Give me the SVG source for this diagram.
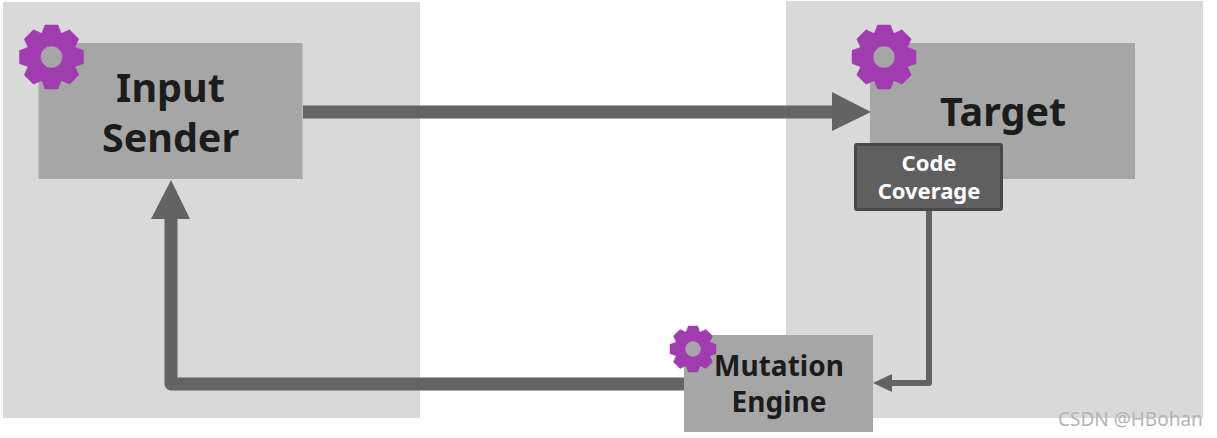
<svg xmlns="http://www.w3.org/2000/svg" width="1217" height="438" viewBox="0 0 1217 438">
  <style>
    .panel { fill: #d9d9d9; }
    .box { fill: #a6a6a6; }
    .gear { fill: #a03bb0; fill-rule: evenodd; stroke: #a03bb0; stroke-width: 0.5; stroke-linejoin: round; }
    .label { font-family: "Noto Sans", "Open Sans", sans-serif; font-weight: 700; text-anchor: middle; fill: #1c1c1c; }
    .big { font-size: 39.500px; }
    .mid { font-size: 28px; }
    .small { font-size: 22px; fill: #ffffff; }
    .wire { fill: none; stroke: #636363; stroke-linejoin: round; }
    .head { fill: #636363; }
    .mark { font-family: "Noto Sans", "DejaVu Sans", sans-serif; font-size: 19px; fill: #b4b4b4; }
  </style>
  <defs>
    <path id="gear" class="gear" d="M23.69 10.25L27.22 18.03L18.03 27.22L10.25 23.69L9.5 24L6.5 32L-6.5 32L-9.5 24L-10.25 23.69L-18.03 27.22L-27.22 18.03L-23.69 10.25L-24 9.5L-32 6.5L-32 -6.5L-24 -9.5L-23.69 -10.25L-27.22 -18.03L-18.03 -27.22L-10.25 -23.69L-9.5 -24L-6.5 -32L6.5 -32L9.5 -24L10.25 -23.69L18.03 -27.22L27.22 -18.03L23.69 -10.25L24 -9.5L32 -6.5L32 6.5L24 9.5Z M11 0A11 11 0 1 0 -11 0A11 11 0 1 0 11 0Z"/>
  </defs>
  <rect width="1217" height="438" fill="#ffffff"/>
  <rect class="panel" x="3" y="2" width="417" height="416"/>
  <rect class="panel" x="786" y="1" width="417" height="417"/>
  <g id="connectors">
    <path class="wire" stroke-width="13" d="M303 112H834"/>
    <polygon class="head" points="832,92 871,112 832,131"/>
    <path class="wire" stroke-width="13" d="M686 384H171V217"/>
    <polygon class="head" points="151,219 171,180 190,219"/>
    <path class="wire" stroke-width="6" d="M929 210V383H890"/>
    <polygon class="head" points="892,374 873,383 892,392"/>
  </g>
  <g id="input-sender">
    <rect class="box" x="38.500" y="43" width="264" height="136"/>
    <use href="#gear" x="51.500" y="57"/>
    <text class="label big" x="170.500" y="102">Input</text>
    <text class="label big" x="170.500" y="152">Sender</text>
  </g>
  <g id="target">
    <rect class="box" x="870" y="43" width="265" height="136"/>
    <use href="#gear" x="884" y="57"/>
    <text class="label big" x="1003" y="126">Target</text>
  </g>
  <g id="code-coverage">
    <rect x="855.500" y="144.500" width="146" height="65" rx="1.500" fill="#5f5f5f" stroke="#484848" stroke-width="3"/>
    <text class="label small" x="929" y="171">Code</text>
    <text class="label small" x="929" y="199">Coverage</text>
  </g>
  <g id="mutation-engine">
    <rect class="box" x="684" y="335" width="189" height="97"/>
    <use href="#gear" transform="translate(693 349) scale(.72)"/>
    <text class="label mid" x="779" y="376">Mutation</text>
    <text class="label mid" x="779" y="412">Engine</text>
  </g>
  <text class="mark" x="1058" y="426">CSDN @HBohan</text>
</svg>
